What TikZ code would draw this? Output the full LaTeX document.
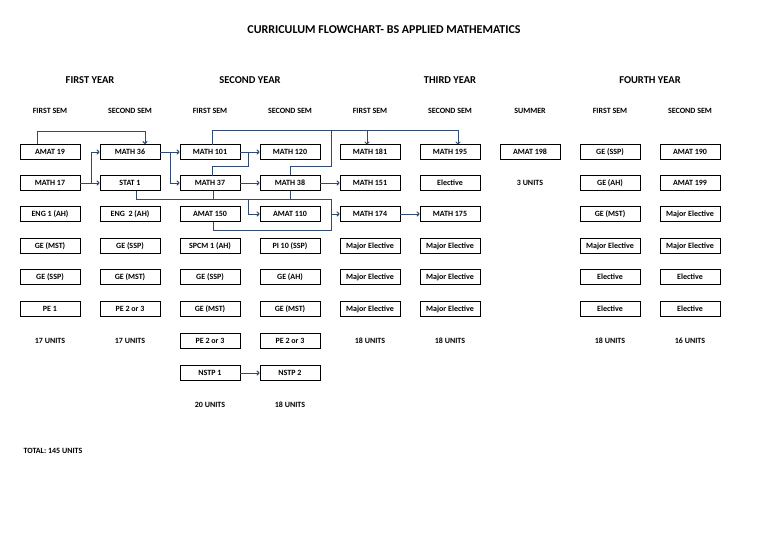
\documentclass[tikz,border=0pt]{standalone}
\usepackage{fontspec}
\setmainfont{Carlito}
\usetikzlibrary{arrows.meta}
\definecolor{lnk}{HTML}{2F4B75}
\begin{document}
\begin{tikzpicture}[x=1pt,y=-1pt,
  cbox/.style={draw,line width=0.9pt,minimum width=60pt,minimum height=15pt,inner sep=0pt,font=\bfseries\fontsize{8}{9}\selectfont},
  lbl/.style={font=\bfseries\fontsize{8}{9}\selectfont},
  yr/.style={font=\bfseries\fontsize{10.5}{12}\selectfont},
  lk/.style={draw=lnk,line width=1pt},
  ar/.style={lk,-{To[length=3pt,width=5pt]}}]
\useasboundingbox (0,0) rectangle (768,543);
\node[font=\bfseries\fontsize{12}{14}\selectfont] (title) at (384,30) {CURRICULUM FLOWCHART- BS APPLIED MATHEMATICS};
\node[yr] (y1) at (90,80) {FIRST YEAR};
\node[yr] (y2) at (250,80) {SECOND YEAR};
\node[yr] (y3) at (450,80) {THIRD YEAR};
\node[yr] (y4) at (650,80) {FOURTH YEAR};
\foreach \n/\x/\t in {s1/50/FIRST SEM,s2/130/SECOND SEM,s3/210/FIRST SEM,s4/290/SECOND SEM,s5/370/FIRST SEM,s6/450/SECOND SEM,s7/530/SUMMER,s8/610/FIRST SEM,s9/690/SECOND SEM}
  \node[lbl] (\n) at (\x,111) {\t};
% column 1
\node[cbox] (amat19) at (50,152) {AMAT 19};
\node[cbox] (math17) at (50,183) {MATH 17};
\node[cbox] (eng1) at (50,214) {ENG 1 (AH)};
\node[cbox] (c1r4) at (50,246) {GE (MST)};
\node[cbox] (c1r5) at (50,277) {GE (SSP)};
\node[cbox] (pe1) at (50,309) {PE 1};
\node[lbl] (u1) at (50,341) {17 UNITS};
% column 2
\node[cbox] (math36) at (130,152) {MATH 36};
\node[cbox] (stat1) at (130,183) {STAT 1};
\node[cbox] (eng2) at (130,214) {ENG\ \ 2 (AH)};
\node[cbox] (c2r4) at (130,246) {GE (SSP)};
\node[cbox] (c2r5) at (130,277) {GE (MST)};
\node[cbox] (c2r6) at (130,309) {PE 2 or 3};
\node[lbl] (u2) at (130,341) {17 UNITS};
% column 3
\node[cbox] (math101) at (210,152) {MATH 101};
\node[cbox] (math37) at (210,183) {MATH 37};
\node[cbox] (amat150) at (210,214) {AMAT 150};
\node[cbox] (spcm) at (210,246) {SPCM 1 (AH)};
\node[cbox] (c3r5) at (210,277) {GE (SSP)};
\node[cbox] (c3r6) at (210,309) {GE (MST)};
\node[cbox] (c3r7) at (210,341) {PE 2 or 3};
\node[cbox] (nstp1) at (210,373) {NSTP 1};
\node[lbl] (u3) at (210,405) {20 UNITS};
% column 4
\node[cbox] (math120) at (290,152) {MATH 120};
\node[cbox] (math38) at (290,183) {MATH 38};
\node[cbox] (amat110) at (290,214) {AMAT 110};
\node[cbox] (pi10) at (290,246) {PI 10 (SSP)};
\node[cbox] (c4r5) at (290,277) {GE (AH)};
\node[cbox] (c4r6) at (290,309) {GE (MST)};
\node[cbox] (c4r7) at (290,341) {PE 2 or 3};
\node[cbox] (nstp2) at (290,373) {NSTP 2};
\node[lbl] (u4) at (290,405) {18 UNITS};
% column 5
\node[cbox] (math181) at (370,152) {MATH 181};
\node[cbox] (math151) at (370,183) {MATH 151};
\node[cbox] (math174) at (370,214) {MATH 174};
\node[cbox] (c5r4) at (370,246) {Major Elective};
\node[cbox] (c5r5) at (370,277) {Major Elective};
\node[cbox] (c5r6) at (370,309) {Major Elective};
\node[lbl] (u5) at (370,341) {18 UNITS};
% column 6
\node[cbox] (math195) at (450,152) {MATH 195};
\node[cbox] (c6r2) at (450,183) {Elective};
\node[cbox] (math175) at (450,214) {MATH 175};
\node[cbox] (c6r4) at (450,246) {Major Elective};
\node[cbox] (c6r5) at (450,277) {Major Elective};
\node[cbox] (c6r6) at (450,309) {Major Elective};
\node[lbl] (u6) at (450,341) {18 UNITS};
% summer
\node[cbox] (amat198) at (530,152) {AMAT 198};
\node[lbl] (u7) at (530,183) {3 UNITS};
% column 8
\node[cbox] (c8r1) at (610,152) {GE (SSP)};
\node[cbox] (c8r2) at (610,183) {GE (AH)};
\node[cbox] (c8r3) at (610,214) {GE (MST)};
\node[cbox] (c8r4) at (610,246) {Major Elective};
\node[cbox] (c8r5) at (610,277) {Elective};
\node[cbox] (c8r6) at (610,309) {Elective};
\node[lbl] (u8) at (610,341) {18 UNITS};
% column 9
\node[cbox] (amat190) at (690,152) {AMAT 190};
\node[cbox] (amat199) at (690,183) {AMAT 199};
\node[cbox] (c9r3) at (690,214) {Major Elective};
\node[cbox] (c9r4) at (690,246) {Major Elective};
\node[cbox] (c9r5) at (690,277) {Elective};
\node[cbox] (c9r6) at (690,309) {Elective};
\node[lbl] (u9) at (690,341) {16 UNITS};
\node[lbl,anchor=west] (total) at (20,451) {TOTAL: 145 UNITS};
% connectors
\coordinate (t181) at (367,144.5);
\coordinate (t195) at (458,144.5);
\draw[ar] ([xshift=-13pt]amat19.north) -- ++(0,-13) -| ([xshift=15pt]math36.north);
\draw[ar] (math17.east) -- (91,183) |- (math36.west);
\draw[ar] (math17.east) -- (stat1.west);
\draw[ar] (math36.east) -- (math101.west);
\draw[ar] (170,152) |- (math37.west);
\draw[ar] (math101.east) -- (math120.west);
\draw[lk] (212,175.5) -- (212,166) -| (248,152);
\draw[lk] (212,144.5) -- (212,130) -- (458,130);
\draw[ar] (367,130) -- (t181);
\draw[ar] (458,130) -- (t195);
\draw[lk] (math38.north) -- (290,166) -| (331,130);
\draw[ar] (math37.east) -- (math38.west);
\draw[ar] (math38.east) -- (math151.west);
\draw[lk] ([xshift=6pt]stat1.south) -- (136,199) -- (290,199) -- (math38.south);
\draw[lk] (213,190.5) -- (213,199);
\draw[ar] (248,199) |- (amat110.west);
\draw[lk] (290,199) -| (331,214);
\draw[ar] (331,214) -- (math174.west);
\draw[lk] ([xshift=3pt]amat150.south) -- (213,230) -| (331,214);
\draw[ar] (math174.east) -- (math175.west);
\draw[ar] (nstp1.east) -- (nstp2.west);
\end{tikzpicture}
\end{document}
